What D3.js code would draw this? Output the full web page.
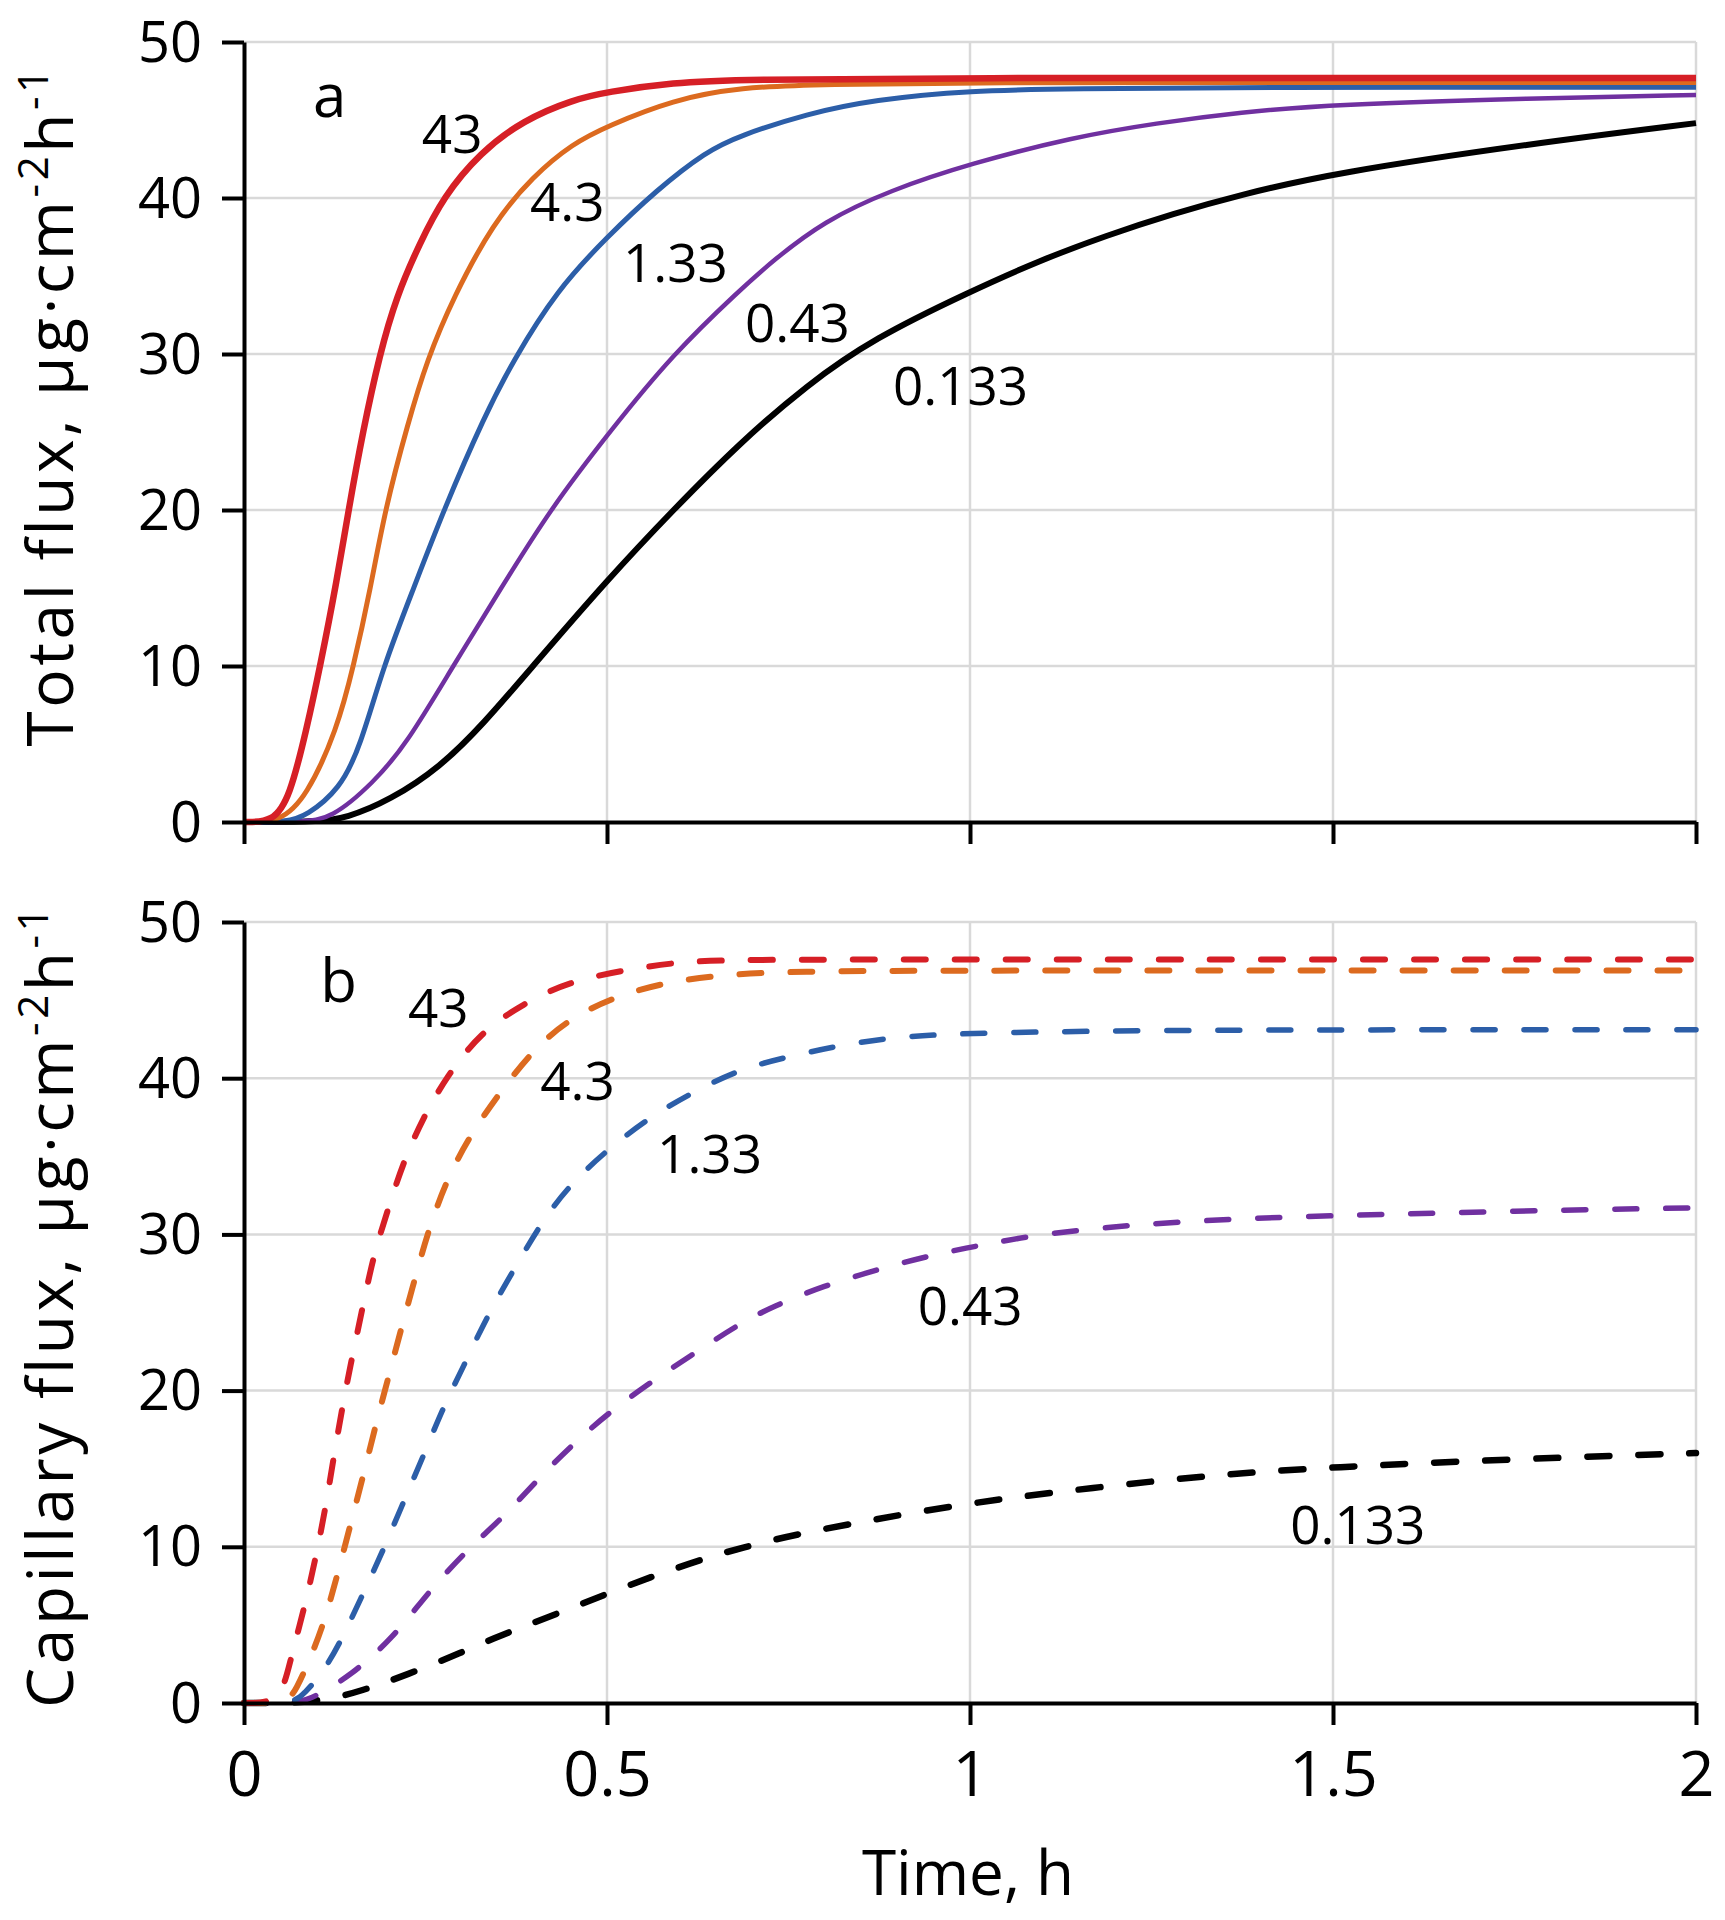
<!DOCTYPE html>
<html><head><meta charset="utf-8">
<script src="https://cdn.jsdelivr.net/npm/d3@7"></script>
<style>body{margin:0;background:#fff}</style>
</head><body>
<svg id="c" width="1725" height="1920"></svg>
<script>
// ---------- data ----------
const xTicks = [0, 0.5, 1, 1.5, 2];
const xTickLabels = ["0", "0.5", "1", "1.5", "2"];
const yTicks = [0, 10, 20, 30, 40, 50];
const seriesNames = ["43", "4.3", "1.33", "0.43", "0.133"];
const seriesColors = ["#d61f26", "#dc6a1f", "#2c5ea8", "#7030a0", "#000000"];

// panel a: total flux (time h, flux)
const total43 = [[0,0],[0.04,0],[0.063,1.6],[0.086,5.9],[0.105,10],[0.128,15.5],[0.144,20],[0.164,25.1],[0.187,30],[0.21,33.7],[0.242,37.1],[0.275,40.1],[0.325,42.9],[0.385,45.0],[0.453,46.3],[0.5,46.8],[0.591,47.4],[0.683,47.6],[1,47.7],[1.5,47.7],[2,47.7]];
const total4_3 = [[0,0],[0.05,0],[0.086,1.6],[0.128,5.9],[0.151,10],[0.174,14.9],[0.194,20],[0.226,25.6],[0.252,29.6],[0.288,33.6],[0.343,38.4],[0.398,41.4],[0.453,43.5],[0.5,44.6],[0.591,46.3],[0.683,47.1],[0.8,47.3],[1,47.4],[1.5,47.4],[2,47.4]];
const total1_33 = [[0,0],[0.06,0],[0.086,0.4],[0.132,2.1],[0.16,4.8],[0.192,10],[0.233,14.9],[0.275,20],[0.331,26.0],[0.371,29.6],[0.431,34.1],[0.5,37.5],[0.568,40.5],[0.637,43.0],[0.683,44.0],[0.775,45.4],[0.867,46.3],[1,46.9],[1.142,47.0],[1.372,47.1],[2,47.1]];
const total0_43 = [[0,0],[0.08,0],[0.12,0.2],[0.178,2.5],[0.224,5.0],[0.288,10],[0.353,14.9],[0.421,20],[0.505,25.1],[0.591,30],[0.683,34.1],[0.729,36.0],[0.798,38.5],[0.89,40.5],[1,42.2],[1.142,43.9],[1.257,44.8],[1.372,45.5],[1.5,46.0],[1.775,46.4],[2,46.6]];
const total0_133 = [[0,0],[0.1,0],[0.141,0.25],[0.201,1.4],[0.27,3.5],[0.33,6.3],[0.398,10],[0.5,15.5],[0.591,20],[0.683,24.3],[0.775,28.0],[0.867,31.0],[1,34.0],[1.096,36.0],[1.188,37.6],[1.28,39.0],[1.372,40.2],[1.5,41.6],[1.775,43.5],[2,44.8]];

// panel b: capillary flux (time h, flux)
const cap43 = [[0,0],[0.05,0],[0.063,2.6],[0.086,6.6],[0.1,9.6],[0.112,12.4],[0.123,15.6],[0.135,18.8],[0.146,21.5],[0.162,25.0],[0.178,28.6],[0.197,31.4],[0.219,34.6],[0.247,37.5],[0.279,40.1],[0.325,42.9],[0.385,44.8],[0.449,46.2],[0.522,46.9],[0.591,47.4],[0.66,47.6],[1,47.6],[2,47.6]];
const cap4_3 = [[0,0],[0.06,0],[0.073,1.0],[0.086,2.3],[0.109,4.9],[0.128,8.1],[0.146,11.3],[0.164,14.5],[0.183,18.1],[0.197,20.5],[0.215,23.7],[0.231,26.4],[0.252,30.0],[0.279,33.5],[0.311,36.3],[0.348,38.8],[0.394,41.6],[0.444,43.7],[0.509,45.2],[0.578,46.1],[0.651,46.6],[0.75,46.85],[1,46.9],[2,46.9]];
const cap1_33 = [[0,0],[0.07,0],[0.082,0.6],[0.105,1.7],[0.132,3.8],[0.16,6.6],[0.192,9.8],[0.219,12.8],[0.247,15.8],[0.275,19.0],[0.302,21.5],[0.334,24.7],[0.376,28.1],[0.417,31.3],[0.454,33.4],[0.5,35.4],[0.559,37.5],[0.614,39.0],[0.683,40.6],[0.752,41.4],[0.821,42.1],[0.89,42.6],[0.959,42.8],[1.028,42.9],[1.142,43.0],[1.372,43.1],[2,43.1]];
const cap0_43 = [[0,0],[0.08,0],[0.1,0.5],[0.146,1.7],[0.206,4.2],[0.252,7.0],[0.307,9.8],[0.362,12.1],[0.408,14.5],[0.454,16.6],[0.5,18.5],[0.559,20.5],[0.614,22.2],[0.683,24.3],[0.729,25.4],[0.798,26.7],[0.876,27.8],[0.949,28.7],[1.014,29.3],[1.083,29.9],[1.156,30.3],[1.225,30.6],[1.294,30.8],[1.367,31.0],[1.5,31.2],[1.75,31.5],[2,31.7]];
const cap0_133 = [[0,0],[0.1,0],[0.164,0.8],[0.224,1.8],[0.298,3.2],[0.362,4.5],[0.431,5.7],[0.5,7.0],[0.568,8.2],[0.637,9.3],[0.683,9.9],[0.766,10.9],[0.993,12.8],[1.172,13.8],[1.335,14.6],[1.497,15.1],[1.741,15.6],[2,16.0]];

// ---------- drawing ----------
const FONT = "'Open Sans', 'Noto Sans', sans-serif";
const svg = d3.select("#c");
const x = d3.scaleLinear().domain([0, 2]).range([244, 1696]);

const panels = [
  { y: d3.scaleLinear().domain([0, 50]).range([822, 42]), series: [total43, total4_3, total1_33, total0_43, total0_133], dashed: false,
    title: "Total flux, ", letter: "a", letterPos: [0.095, 45.2], showX: false, titleCy: 406,
    labelPos: [[0.245, 42.9], [0.394, 38.5], [0.522, 34.6], [0.690, 30.8], [0.894, 26.7]] },
  { y: d3.scaleLinear().domain([0, 50]).range([1703, 922]), series: [cap43, cap4_3, cap1_33, cap0_43, cap0_133], dashed: true,
    title: "Capillary flux, ", letter: "b", letterPos: [0.105, 44.9], showX: true, titleCy: 1306,
    labelPos: [[0.226, 43.3], [0.408, 38.6], [0.569, 33.9], [0.928, 24.2], [1.441, 10.2]] }
];

panels.forEach(p => {
  const y = p.y;
  const g = svg.append("g");
  // gridlines
  g.append("g").selectAll("line").data(yTicks.filter(v => v > 0)).join("line")
    .attr("x1", x(0)).attr("x2", x(2)).attr("y1", d => y(d)).attr("y2", d => y(d))
    .attr("stroke", "#d9d9d9").attr("stroke-width", 2.5);
  g.append("g").selectAll("line").data(xTicks.filter(v => v > 0)).join("line")
    .attr("x1", d => x(d)).attr("x2", d => x(d)).attr("y1", y(0)).attr("y2", y(50))
    .attr("stroke", "#d9d9d9").attr("stroke-width", 2.5);

  // lines (draw lowest first so red ends on top)
  const line = d3.line().x(d => x(d[0])).y(d => y(d[1])).curve(d3.curveBasis);
  const widths = p.dashed ? [6, 6, 5.5, 5.5, 6.5] : [6.5, 5, 5, 4.5, 6];
  for (let i = p.series.length - 1; i >= 0; i--) {
    const path = g.append("path").datum(p.series[i]).attr("d", line)
      .attr("fill", "none").attr("stroke", seriesColors[i]).attr("stroke-width", widths[i])
      .attr("stroke-linejoin", "round");
    if (p.dashed) path.attr("stroke-dasharray", "22,29").attr("stroke-linecap", "round");
  }

  // axes
  const yAxis = d3.axisLeft(y).tickValues(yTicks).tickSize(22).tickSizeOuter(0).tickPadding(20);
  const ya = g.append("g").attr("transform", `translate(${x(0)},0)`).call(yAxis);
  ya.select(".domain").attr("stroke", "#000").attr("stroke-width", 4);
  ya.selectAll(".tick line").attr("stroke", "#000").attr("stroke-width", 4);
  ya.selectAll(".tick text").attr("font-family", FONT).attr("font-size", 56).attr("dy", "0.34em").attr("fill", "#000");

  const xAxis = d3.axisBottom(x).tickValues(xTicks).tickSize(22).tickSizeOuter(0).tickPadding(26)
    .tickFormat((d, i) => p.showX ? xTickLabels[i] : "");
  const xa = g.append("g").attr("transform", `translate(0,${y(0)})`).call(xAxis);
  xa.select(".domain").attr("stroke", "#000").attr("stroke-width", 4);
  xa.selectAll(".tick line").attr("stroke", "#000").attr("stroke-width", 4);
  xa.selectAll(".tick text").attr("font-family", FONT).attr("font-size", 63).attr("fill", "#000");

  // curve labels
  g.append("g").selectAll("text").data(seriesNames).join("text")
    .attr("x", (d, i) => x(p.labelPos[i][0])).attr("y", (d, i) => y(p.labelPos[i][1]))
    .attr("font-family", FONT).attr("font-size", 53).attr("fill", "#000").text(d => d);
  g.append("text").attr("x", x(p.letterPos[0])).attr("y", y(p.letterPos[1]))
    .attr("font-family", FONT).attr("font-size", 60).attr("fill", "#000").text(p.letter);

  // y title
  const t = g.append("text").attr("transform", `translate(73,${p.titleCy}) rotate(-90)`)
    .attr("text-anchor", "middle").attr("font-family", FONT).attr("font-size", 64)
    .attr("letter-spacing", 3.5).attr("fill", "#000");
  t.append("tspan").text(p.title + "µg·cm");
  t.append("tspan").attr("font-size", 42).attr("dy", -25).text("-2");
  t.append("tspan").attr("dy", 25).text("h");
  t.append("tspan").attr("font-size", 42).attr("dy", -25).text("-1");
});

svg.append("text").attr("x", 968).attr("y", 1895).attr("text-anchor", "middle")
  .attr("font-family", FONT).attr("font-size", 62).attr("fill", "#000").text("Time, h");
</script>
</body></html>
